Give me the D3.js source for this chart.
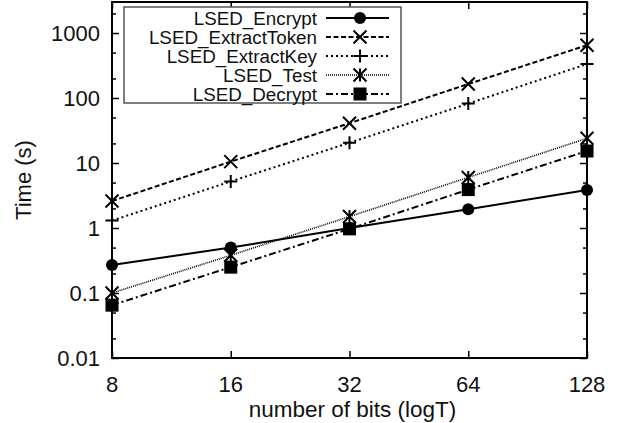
<!DOCTYPE html>
<html>
<head>
<meta charset="UTF-8">
<title>LSED timing</title>
<script src="https://cdn.jsdelivr.net/npm/d3@7"></script>
<style>
  body { margin: 0; background: #fff; }
  text { font-family: "Liberation Sans", Arial, sans-serif; fill: #111; }
</style>
</head>
<body>
<script>
// data
var bits = [8, 16, 32, 64, 128];
var seriesNames = ["LSED_Encrypt", "LSED_ExtractToken", "LSED_ExtractKey", "LSED_Test", "LSED_Decrypt"];
var encrypt      = [0.27, 0.5, 1.0, 1.95, 3.85];
var extractToken = [2.6, 10.5, 41, 164, 650];
var extractKey   = [1.3, 5.2, 20.5, 82, 333];
var testTimes    = [0.1, 0.38, 1.5, 6.0, 24];
var decrypt      = [0.065, 0.25, 0.97, 3.9, 15.3];
var yTicks = [0.01, 0.1, 1, 10, 100, 1000];
var yTickLabels = ["0.01", "0.1", "1", "10", "100", "1000"];

var allSeries = [encrypt, extractToken, extractKey, testTimes, decrypt];
var dashes = [null, "5,2.5", "2,3", "1,1", "7,3,2,3"];
var widths = [2, 2, 2, 1.6, 2];
var symbols = ["circle", "x", "plus", "star", "square"];

var w = 621, h = 423;
var pLeft = 112, pRight = 587, pTop = 2, pBottom = 358;

var svg = d3.select("body").append("svg")
  .attr("width", w)
  .attr("height", h);

var x = d3.scaleLog().base(2).domain([8, 128]).range([pLeft, pRight]);
var y = d3.scaleLog().domain([0.01, 3000]).range([pBottom, pTop]);

// minor ticks at 2 and 5 of each decade
var minor = [];
[0.01, 0.1, 1, 10, 100, 1000].forEach(function(d) {
  [2, 5].forEach(function(m) { if (d * m < 3000) minor.push(d * m); });
});

function tidy(g) {
  g.select(".domain").remove();
  g.selectAll("line").attr("stroke-width", 1.5);
}

// left axis, ticks pointing inward
svg.append("g")
  .attr("transform", "translate(" + pLeft + ",0)")
  .call(d3.axisRight(y).tickValues(yTicks).tickFormat("").tickSize(7))
  .call(tidy);
svg.append("g")
  .attr("transform", "translate(" + pLeft + ",0)")
  .call(d3.axisRight(y).tickValues(minor).tickFormat("").tickSize(4))
  .call(tidy);
// right axis mirror
svg.append("g")
  .attr("transform", "translate(" + pRight + ",0)")
  .call(d3.axisLeft(y).tickValues(yTicks).tickFormat("").tickSize(7))
  .call(tidy);
svg.append("g")
  .attr("transform", "translate(" + pRight + ",0)")
  .call(d3.axisLeft(y).tickValues(minor).tickFormat("").tickSize(4))
  .call(tidy);

// y tick labels
svg.selectAll(".ylab")
  .data(yTicks)
  .enter()
  .append("text")
  .attr("x", pLeft - 12)
  .attr("y", function(d) { return y(d); })
  .attr("dy", "0.36em")
  .attr("text-anchor", "end")
  .attr("font-size", "22px")
  .text(function(d, i) { return yTickLabels[i]; });

// bottom + top x ticks
svg.append("g")
  .attr("transform", "translate(0," + pBottom + ")")
  .call(d3.axisTop(x).tickValues(bits).tickFormat("").tickSize(7))
  .call(tidy);
svg.append("g")
  .attr("transform", "translate(0," + pTop + ")")
  .call(d3.axisBottom(x).tickValues(bits).tickFormat("").tickSize(7))
  .call(tidy);

svg.selectAll(".xlab")
  .data(bits)
  .enter()
  .append("text")
  .attr("x", function(d) { return x(d); })
  .attr("y", pBottom + 34)
  .attr("text-anchor", "middle")
  .attr("font-size", "22px")
  .text(function(d) { return d; });

// frame
svg.append("rect")
  .attr("x", pLeft).attr("y", pTop)
  .attr("width", pRight - pLeft).attr("height", pBottom - pTop)
  .attr("fill", "none").attr("stroke", "#000").attr("stroke-width", 2);

// axis titles
svg.append("text")
  .attr("x", (pLeft + pRight) / 2 + 3)
  .attr("y", 417)
  .attr("text-anchor", "middle")
  .attr("font-size", "22.5px")
  .text("number of bits (logT)");
svg.append("text")
  .attr("transform", "translate(31," + ((pTop + pBottom) / 2) + ") rotate(-90)")
  .attr("text-anchor", "middle")
  .attr("font-size", "22px")
  .text("Time (s)");

function drawSymbol(g, kind, cx, cy) {
  if (kind == "circle") {
    g.append("circle").attr("cx", cx).attr("cy", cy).attr("r", 6).attr("fill", "#000");
  } else if (kind == "square") {
    g.append("rect").attr("x", cx - 6.5).attr("y", cy - 6.5).attr("width", 13).attr("height", 13).attr("fill", "#000");
  } else {
    var s = 6.5, p = "";
    if (kind == "x" || kind == "star") p += "M" + (cx - s) + "," + (cy - s) + "L" + (cx + s) + "," + (cy + s) + "M" + (cx - s) + "," + (cy + s) + "L" + (cx + s) + "," + (cy - s);
    if (kind == "plus") p += "M" + (cx - s) + "," + cy + "L" + (cx + s) + "," + cy + "M" + cx + "," + (cy - s) + "L" + cx + "," + (cy + s);
    if (kind == "star") p += "M" + cx + "," + (cy - s) + "L" + cx + "," + (cy + s);
    g.append("path").attr("d", p).attr("stroke", "#000").attr("stroke-width", 2).attr("fill", "none");
  }
}

var line = d3.line()
  .x(function(d, i) { return x(bits[i]); })
  .y(function(d) { return y(d); });

allSeries.forEach(function(vals, k) {
  var g = svg.append("g");
  g.append("path")
    .attr("d", line(vals))
    .attr("fill", "none")
    .attr("stroke", "#000")
    .attr("stroke-width", widths[k])
    .attr("stroke-dasharray", dashes[k]);
  vals.forEach(function(v, i) { drawSymbol(g, symbols[k], x(bits[i]), y(v)); });
});

// legend
var legX = 124, legY = 7, legW = 277, legH = 96, rowH = 19;
svg.append("rect")
  .attr("x", legX).attr("y", legY)
  .attr("width", legW).attr("height", legH)
  .attr("fill", "#fff").attr("stroke", "#555").attr("stroke-width", 1.5);

seriesNames.forEach(function(name, k) {
  var ry = legY + 11 + k * rowH;
  var g = svg.append("g");
  g.append("text")
    .attr("x", 317).attr("y", ry)
    .attr("dy", "0.36em")
    .attr("text-anchor", "end")
    .attr("font-size", "18.8px")
    .text(name);
  g.append("line")
    .attr("x1", 326).attr("x2", 389)
    .attr("y1", ry).attr("y2", ry)
    .attr("stroke", "#000")
    .attr("stroke-width", widths[k])
    .attr("stroke-dasharray", dashes[k]);
  drawSymbol(g, symbols[k], 360, ry);
});
</script>
</body>
</html>
